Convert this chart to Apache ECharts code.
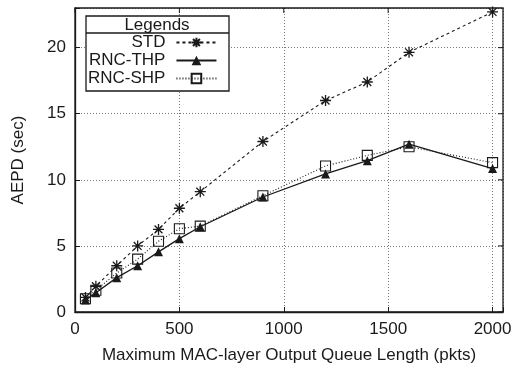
<!DOCTYPE html>
<html>
<head>
<meta charset="utf-8">
<script src="https://cdn.jsdelivr.net/npm/echarts@6/dist/echarts.min.js"></script>
<style>
  html, body { margin: 0; padding: 0; background: #fff; }
  #chart { width: 525px; height: 369px; }
</style>
</head>
<body>
<div id="chart"></div>
<script>
const queueLengths = [50, 100, 200, 300, 400, 500, 600, 900, 1200, 1400, 1600, 2000];
const stdValues = [1.1, 1.95, 3.5, 5.0, 6.25, 7.85, 9.1, 12.9, 16.0, 17.4, 19.65, 22.7];
const thpValues = [0.9, 1.45, 2.6, 3.5, 4.55, 5.55, 6.45, 8.7, 10.45, 11.45, 12.7, 10.85];
const shpValues = [1.0, 1.65, 2.95, 4.0, 5.35, 6.3, 6.5, 8.8, 11.05, 11.85, 12.5, 11.3];
const xTicks = [0, 500, 1000, 1500, 2000];
const yTicks = [0, 5, 10, 15, 20];

const FONT = "Liberation Sans, Arial, sans-serif";
const INK = "#1a1a1a";
const ASTERISK = "path://M0,-6L0,6M-6,0L6,0M-4.3,-4.3L4.3,4.3M-4.3,4.3L4.3,-4.3";
const X_MAX = 2050;
const Y_MAX = 23;

function pairs(values) {
  return queueLengths.map((x, i) => [x, values[i]]);
}

function tickLabel(step) {
  return {
    color: INK,
    fontSize: 17,
    fontFamily: FONT,
    margin: 9,
    formatter: (v) => (v % step === 0 ? v : ""),
  };
}
function gridLine() {
  return { show: true, lineStyle: { color: "#777", type: [1, 2], width: 1 } };
}

const chart = echarts.init(document.getElementById("chart"));

chart.setOption({
  animation: false,
  grid: { left: 75, right: 22, top: 8, bottom: 57 },
  xAxis: {
    type: "value",
    min: 0,
    max: X_MAX,
    interval: 500,
    name: "Maximum MAC-layer Output Queue Length (pkts)",
    nameLocation: "middle",
    nameGap: 35,
    nameTextStyle: { color: INK, fontSize: 17, fontFamily: FONT },
    axisLine: { show: true, onZero: false, lineStyle: { color: INK, width: 1.3 } },
    axisTick: { show: true, inside: true, length: 5, lineStyle: { color: INK } },
    axisLabel: tickLabel(500),
    splitLine: gridLine(),
  },
  yAxis: {
    type: "value",
    min: 0,
    max: Y_MAX,
    interval: 5,
    name: "AEPD (sec)",
    nameLocation: "middle",
    nameGap: 48,
    nameTextStyle: { color: INK, fontSize: 17, fontFamily: FONT },
    axisLine: { show: true, onZero: false, lineStyle: { color: INK, width: 1.3 } },
    axisTick: { show: true, inside: true, length: 5, lineStyle: { color: INK } },
    axisLabel: tickLabel(5),
    splitLine: gridLine(),
  },
  legend: {
    orient: "vertical",
    left: 88,
    top: 34,
    padding: 0,
    align: "right",
    itemWidth: 40,
    itemHeight: 12,
    itemGap: 1,
    z: 20,
    textStyle: {
      color: INK,
      fontSize: 17,
      fontFamily: FONT,
      width: 80,
      align: "right",
      padding: [0, 6, 0, 0],
    },
    data: ["STD", "RNC-THP", "RNC-SHP"],
  },
  series: [
    {
      name: "STD",
      type: "line",
      data: pairs(stdValues),
      symbol: ASTERISK,
      symbolSize: 11,
      lineStyle: { color: INK, width: 1.1, type: [3, 3] },
      itemStyle: { color: "rgba(0,0,0,0)", borderColor: INK, borderWidth: 1.3 },
      z: 3,
    },
    {
      name: "RNC-THP",
      type: "line",
      data: pairs(thpValues),
      symbol: "triangle",
      symbolSize: 9,
      lineStyle: { color: INK, width: 1.3, type: "solid" },
      itemStyle: { color: INK },
      z: 3,
    },
    {
      name: "RNC-SHP",
      type: "line",
      data: pairs(shpValues),
      symbol: "rect",
      symbolSize: 10,
      lineStyle: { color: INK, width: 1.1, type: [1, 2] },
      itemStyle: { color: "rgba(0,0,0,0)", borderColor: INK, borderWidth: 1.1 },
      z: 3,
    },
  ],
});

// plot frame and mirrored ticks on top/right, placed via the chart's own scales
const lo = chart.convertToPixel({ gridIndex: 0 }, [0, 0]);
const hi = chart.convertToPixel({ gridIndex: 0 }, [X_MAX, Y_MAX]);
const frame = [
  {
    type: "rect",
    shape: { x: lo[0], y: hi[1], width: hi[0] - lo[0], height: lo[1] - hi[1] },
    style: { fill: "none", stroke: INK, lineWidth: 1.3 },
    silent: true,
    z: 15,
  },
];
xTicks.forEach((v) => {
  const px = chart.convertToPixel({ gridIndex: 0 }, [v, Y_MAX]);
  frame.push({
    type: "line",
    shape: { x1: px[0], y1: px[1], x2: px[0], y2: px[1] + 5 },
    style: { stroke: INK, lineWidth: 1 },
    silent: true,
    z: 15,
  });
});
yTicks.forEach((v) => {
  const px = chart.convertToPixel({ gridIndex: 0 }, [X_MAX, v]);
  frame.push({
    type: "line",
    shape: { x1: px[0], y1: px[1], x2: px[0] - 5, y2: px[1] },
    style: { stroke: INK, lineWidth: 1 },
    silent: true,
    z: 15,
  });
});

chart.setOption({
  graphic: frame.concat([
    {
      type: "rect",
      shape: { x: 86, y: 16, width: 143, height: 75 },
      style: { fill: "#fff", stroke: INK, lineWidth: 1.3 },
      z: 16,
    },
    {
      type: "line",
      shape: { x1: 86, y1: 33, x2: 229, y2: 33 },
      style: { stroke: INK, lineWidth: 1.3 },
      z: 17,
    },
    {
      type: "text",
      x: 157,
      y: 25,
      style: {
        text: "Legends",
        fill: INK,
        fontSize: 17,
        fontFamily: FONT,
        align: "center",
        verticalAlign: "middle",
      },
      z: 17,
    },
  ]),
});
</script>
</body>
</html>
